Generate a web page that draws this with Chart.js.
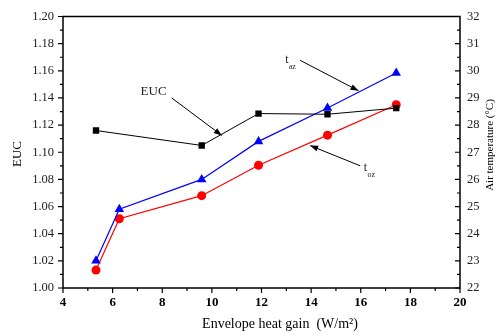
<!DOCTYPE html>
<html>
<head>
<meta charset="utf-8">
<script src="https://cdn.jsdelivr.net/npm/chart.js@4"></script>
<style>
  html, body { margin: 0; padding: 0; background: #fff; }
  #wrap { width: 496px; height: 336px; }
</style>
</head>
<body>
<div id="wrap"><canvas id="eucChart"></canvas></div>
<script>
// ---- data ----
const heatGainEUC = [5.33, 9.59, 11.88, 14.66, 17.43];
const eucValues = [1.116, 1.105, 1.1285, 1.128, 1.1325];
const heatGainTemp = [5.33, 6.27, 9.59, 11.88, 14.66, 17.43];
const tAz = [23.0, 24.9, 26.0, 27.4, 28.63, 29.92];
const tOz = [22.66, 24.55, 25.4, 26.52, 27.63, 28.75];

const xTicks = [4, 6, 8, 10, 12, 14, 16, 18, 20];
const eucTicks = [1.00, 1.02, 1.04, 1.06, 1.08, 1.10, 1.12, 1.14, 1.16, 1.18, 1.20];
const tempTicks = [22, 23, 24, 25, 26, 27, 28, 29, 30, 31, 32];

const SERIF = "'Liberation Serif', 'DejaVu Serif', serif";

function toPoints(xs, ys) {
  return xs.map((x, i) => ({ x: x, y: ys[i] }));
}

// frame, minor/major ticks, annotations and axis titles
const decorPlugin = {
  id: "decor",
  afterDraw(chart) {
    const ctx = chart.ctx;
    const a = chart.chartArea;
    const sx = chart.scales.x, sy = chart.scales.y, sy2 = chart.scales.y2;
    ctx.save();
    ctx.strokeStyle = "#000";
    ctx.fillStyle = "#000";

    // frame
    ctx.lineWidth = 1.5;
    ctx.strokeRect(a.left, a.top, a.right - a.left, a.bottom - a.top);

    ctx.lineWidth = 1.2;
    ctx.beginPath();
    // bottom ticks (outward)
    for (let v = 4; v <= 20; v += 1) {
      const p = sx.getPixelForValue(v);
      const len = v % 2 === 0 ? 5 : 3;
      ctx.moveTo(p, a.bottom); ctx.lineTo(p, a.bottom + len);
    }
    // left ticks (outward)
    for (let i = 0; i <= 20; i++) {
      const p = sy.getPixelForValue(1 + i * 0.01);
      const len = i % 2 === 0 ? 5 : 3;
      ctx.moveTo(a.left, p); ctx.lineTo(a.left - len, p);
    }
    // right ticks (inward)
    for (let i = 0; i <= 20; i++) {
      const p = sy2.getPixelForValue(22 + i * 0.5);
      const len = i % 2 === 0 ? 5 : 3;
      ctx.moveTo(a.right, p); ctx.lineTo(a.right - len, p);
    }
    ctx.stroke();

    // annotation arrows (in data coordinates of x / left axis)
    function arrow(x1, y1, x2, y2) {
      const X1 = sx.getPixelForValue(x1), Y1 = sy.getPixelForValue(y1);
      const X2 = sx.getPixelForValue(x2), Y2 = sy.getPixelForValue(y2);
      const ang = Math.atan2(Y2 - Y1, X2 - X1);
      ctx.lineWidth = 1;
      ctx.beginPath();
      ctx.moveTo(X1, Y1); ctx.lineTo(X2, Y2);
      ctx.stroke();
      ctx.beginPath();
      ctx.moveTo(X2, Y2);
      ctx.lineTo(X2 - 8 * Math.cos(ang) + 3 * Math.sin(ang), Y2 - 8 * Math.sin(ang) - 3 * Math.cos(ang));
      ctx.lineTo(X2 - 8 * Math.cos(ang) - 3 * Math.sin(ang), Y2 - 8 * Math.sin(ang) + 3 * Math.cos(ang));
      ctx.closePath();
      ctx.fill();
    }
    arrow(8.38, 1.140, 10.40, 1.1124);
    arrow(13.56, 1.1677, 15.91, 1.1453);
    arrow(15.98, 1.090, 13.96, 1.1049);

    ctx.textBaseline = "middle";
    ctx.textAlign = "center";
    ctx.fillStyle = "#222";
    ctx.font = "13px " + SERIF;
    ctx.fillText("EUC", sx.getPixelForValue(7.65), sy.getPixelForValue(1.1444));

    function subLabel(x, y, sub) {
      const X = sx.getPixelForValue(x), Y = sy.getPixelForValue(y);
      ctx.textAlign = "center";
      ctx.font = "12px " + SERIF;
      ctx.fillText("t", X, Y);
      ctx.textAlign = "left";
      ctx.font = "8px " + SERIF;
      ctx.fillText(sub, X + 2, Y + 7);
    }
    subLabel(13.02, 1.1682, "az");
    subLabel(16.19, 1.0888, "oz");

    // axis titles
    ctx.fillStyle = "#000";
    ctx.textAlign = "center";
    ctx.font = "14px " + SERIF;
    ctx.fillText("Envelope heat gain  (W/m\u00B2)", 280, 324);

    ctx.save();
    ctx.translate(18, 154);
    ctx.rotate(-Math.PI / 2);
    ctx.font = "13px " + SERIF;
    ctx.fillText("EUC", 0, 0);
    ctx.restore();

    ctx.save();
    ctx.translate(490, 145);
    ctx.rotate(-Math.PI / 2);
    ctx.font = "11px " + SERIF;
    ctx.fillText("Air temperature (\u00B0C)", 0, 0);
    ctx.restore();

    ctx.restore();
  }
};

const canvas = document.getElementById("eucChart");

new Chart(canvas, {
  type: "line",
  data: {
    datasets: [
      {
        label: "EUC",
        data: toPoints(heatGainEUC, eucValues),
        yAxisID: "y",
        borderColor: "#000",
        backgroundColor: "#000",
        borderWidth: 1,
        pointStyle: "rect",
        pointRadius: 4.5,
        pointBorderWidth: 0,
      },
      {
        label: "t_az",
        data: toPoints(heatGainTemp, tAz),
        yAxisID: "y2",
        borderColor: "#0000ff",
        backgroundColor: "#0000ff",
        borderWidth: 1.2,
        pointStyle: "triangle",
        pointRadius: 5.5,
        pointBorderWidth: 0,
      },
      {
        label: "t_oz",
        data: toPoints(heatGainTemp, tOz),
        yAxisID: "y2",
        borderColor: "#ff0000",
        backgroundColor: "#ff0000",
        borderWidth: 1.2,
        pointStyle: "circle",
        pointRadius: 4.5,
        pointBorderWidth: 0,
      },
    ],
  },
  options: {
    responsive: true,
    maintainAspectRatio: false,
    animation: false,
    layout: { padding: { top: 11, left: 0, right: 0, bottom: 0 } },
    plugins: {
      legend: { display: false },
      tooltip: { enabled: false },
    },
    scales: {
      x: {
        type: "linear",
        min: 4,
        max: 20,
        afterBuildTicks: (s) => { s.ticks = xTicks.map((v) => ({ value: v })); },
        afterFit: (s) => { s.height = 48; },
        grid: { display: false, drawTicks: false },
        border: { display: false },
        ticks: {
          color: "#000",
          padding: 7,
          font: { family: SERIF, size: 13, weight: "bold" },
        },
      },
      y: {
        position: "left",
        min: 1.0,
        max: 1.2,
        afterBuildTicks: (s) => { s.ticks = eucTicks.map((v) => ({ value: v })); },
        afterFit: (s) => { s.width = 63; },
        grid: { display: false, drawTicks: false },
        border: { display: false },
        ticks: {
          color: "#222",
          padding: 9,
          font: { family: SERIF, size: 12.5 },
          callback: (v) => Number(v).toFixed(2),
        },
      },
      y2: {
        position: "right",
        min: 22,
        max: 32,
        afterBuildTicks: (s) => { s.ticks = tempTicks.map((v) => ({ value: v })); },
        afterFit: (s) => { s.width = 36; },
        grid: { display: false, drawTicks: false },
        border: { display: false },
        ticks: {
          color: "#222",
          padding: 7,
          font: { family: SERIF, size: 12.5 },
        },
      },
    },
  },
  plugins: [decorPlugin],
});
</script>
</body>
</html>
